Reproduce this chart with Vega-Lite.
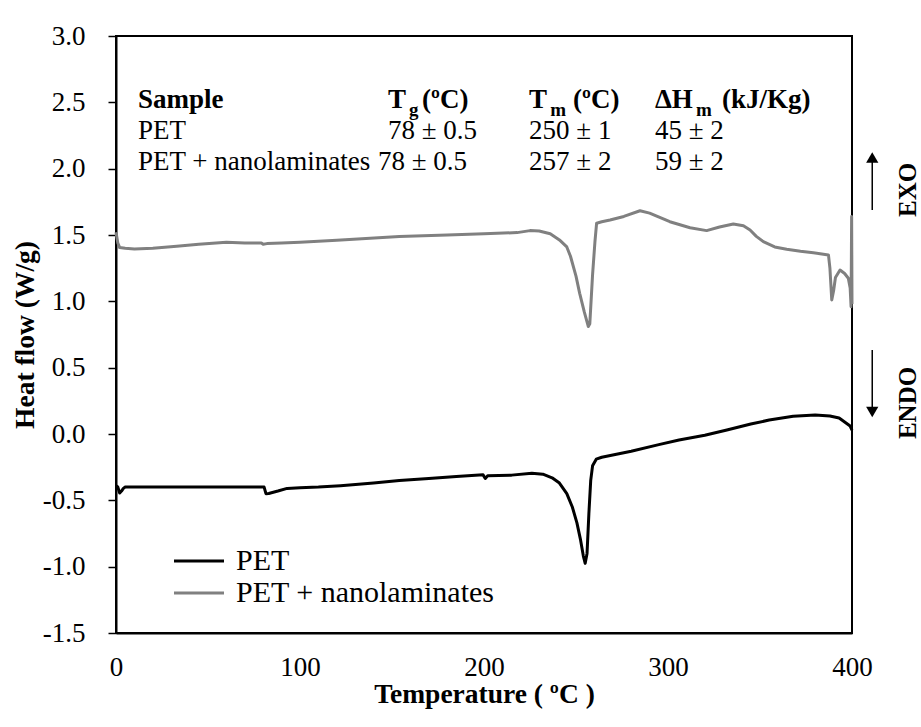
{
  "$schema": "https://vega.github.io/schema/vega-lite/v6.json",
  "width": 736,
  "height": 597,
  "autosize": {"type": "none"},
  "padding": {"left": 116, "top": 36, "right": 69, "bottom": 94},
  "background": "white",
  "config": {
    "font": "Liberation Serif, Times New Roman, serif",
    "view": {"stroke": "#000", "strokeWidth": 2},
    "text": {"font": "Liberation Serif, Times New Roman, serif"},
    "axis": {
      "grid": false,
      "domainColor": "#000",
      "domainWidth": 2,
      "labelFont": "Liberation Serif, Times New Roman, serif",
      "labelFontSize": 27,
      "labelColor": "#000",
      "titleFont": "Liberation Serif, Times New Roman, serif",
      "titleFontSize": 27.5,
      "titleFontWeight": "bold",
      "titleColor": "#000"
    },
    "legend": {"labelFont": "Liberation Serif, Times New Roman, serif"}
  },
  "datasets": {
    "curves": [
      {"x": 0, "y": -0.39, "sample": "PET"},
      {"x": 1, "y": -0.4, "sample": "PET"},
      {"x": 2, "y": -0.445, "sample": "PET"},
      {"x": 3, "y": -0.43, "sample": "PET"},
      {"x": 4, "y": -0.41, "sample": "PET"},
      {"x": 5, "y": -0.4, "sample": "PET"},
      {"x": 20, "y": -0.4, "sample": "PET"},
      {"x": 40, "y": -0.4, "sample": "PET"},
      {"x": 60, "y": -0.4, "sample": "PET"},
      {"x": 80.5, "y": -0.4, "sample": "PET"},
      {"x": 81.5, "y": -0.45, "sample": "PET"},
      {"x": 83, "y": -0.448, "sample": "PET"},
      {"x": 88, "y": -0.43, "sample": "PET"},
      {"x": 93, "y": -0.41, "sample": "PET"},
      {"x": 100, "y": -0.405, "sample": "PET"},
      {"x": 110, "y": -0.4, "sample": "PET"},
      {"x": 122, "y": -0.39, "sample": "PET"},
      {"x": 140, "y": -0.37, "sample": "PET"},
      {"x": 154, "y": -0.351, "sample": "PET"},
      {"x": 170, "y": -0.335, "sample": "PET"},
      {"x": 185, "y": -0.32, "sample": "PET"},
      {"x": 199.5, "y": -0.308, "sample": "PET"},
      {"x": 200.7, "y": -0.335, "sample": "PET"},
      {"x": 202, "y": -0.315, "sample": "PET"},
      {"x": 215, "y": -0.31, "sample": "PET"},
      {"x": 226, "y": -0.296, "sample": "PET"},
      {"x": 232, "y": -0.303, "sample": "PET"},
      {"x": 237, "y": -0.33, "sample": "PET"},
      {"x": 241, "y": -0.37, "sample": "PET"},
      {"x": 245, "y": -0.45, "sample": "PET"},
      {"x": 248, "y": -0.55, "sample": "PET"},
      {"x": 250.5, "y": -0.67, "sample": "PET"},
      {"x": 252.5, "y": -0.8, "sample": "PET"},
      {"x": 254, "y": -0.92, "sample": "PET"},
      {"x": 255, "y": -0.975, "sample": "PET"},
      {"x": 256, "y": -0.9, "sample": "PET"},
      {"x": 257, "y": -0.6, "sample": "PET"},
      {"x": 258, "y": -0.35, "sample": "PET"},
      {"x": 259, "y": -0.24, "sample": "PET"},
      {"x": 261, "y": -0.19, "sample": "PET"},
      {"x": 264, "y": -0.175, "sample": "PET"},
      {"x": 280, "y": -0.13, "sample": "PET"},
      {"x": 295, "y": -0.08, "sample": "PET"},
      {"x": 306, "y": -0.045, "sample": "PET"},
      {"x": 320, "y": -0.01, "sample": "PET"},
      {"x": 332, "y": 0.03, "sample": "PET"},
      {"x": 345, "y": 0.075, "sample": "PET"},
      {"x": 355, "y": 0.105, "sample": "PET"},
      {"x": 368, "y": 0.133, "sample": "PET"},
      {"x": 380, "y": 0.144, "sample": "PET"},
      {"x": 388, "y": 0.135, "sample": "PET"},
      {"x": 393, "y": 0.12, "sample": "PET"},
      {"x": 396, "y": 0.09, "sample": "PET"},
      {"x": 399, "y": 0.06, "sample": "PET"},
      {"x": 400, "y": 0.03, "sample": "PET"},
      {"x": 0, "y": 1.52, "sample": "PET + nanolaminates"},
      {"x": 1, "y": 1.44, "sample": "PET + nanolaminates"},
      {"x": 2, "y": 1.405, "sample": "PET + nanolaminates"},
      {"x": 5, "y": 1.4, "sample": "PET + nanolaminates"},
      {"x": 10, "y": 1.395, "sample": "PET + nanolaminates"},
      {"x": 20, "y": 1.4, "sample": "PET + nanolaminates"},
      {"x": 33, "y": 1.415, "sample": "PET + nanolaminates"},
      {"x": 45, "y": 1.43, "sample": "PET + nanolaminates"},
      {"x": 60, "y": 1.445, "sample": "PET + nanolaminates"},
      {"x": 70, "y": 1.44, "sample": "PET + nanolaminates"},
      {"x": 79, "y": 1.44, "sample": "PET + nanolaminates"},
      {"x": 80, "y": 1.43, "sample": "PET + nanolaminates"},
      {"x": 82, "y": 1.435, "sample": "PET + nanolaminates"},
      {"x": 90, "y": 1.44, "sample": "PET + nanolaminates"},
      {"x": 100, "y": 1.445, "sample": "PET + nanolaminates"},
      {"x": 120, "y": 1.46, "sample": "PET + nanolaminates"},
      {"x": 154, "y": 1.488, "sample": "PET + nanolaminates"},
      {"x": 180, "y": 1.5, "sample": "PET + nanolaminates"},
      {"x": 200, "y": 1.51, "sample": "PET + nanolaminates"},
      {"x": 218, "y": 1.518, "sample": "PET + nanolaminates"},
      {"x": 225, "y": 1.533, "sample": "PET + nanolaminates"},
      {"x": 230, "y": 1.53, "sample": "PET + nanolaminates"},
      {"x": 236, "y": 1.51, "sample": "PET + nanolaminates"},
      {"x": 241, "y": 1.463, "sample": "PET + nanolaminates"},
      {"x": 245, "y": 1.41, "sample": "PET + nanolaminates"},
      {"x": 247, "y": 1.34, "sample": "PET + nanolaminates"},
      {"x": 250, "y": 1.19, "sample": "PET + nanolaminates"},
      {"x": 252, "y": 1.06, "sample": "PET + nanolaminates"},
      {"x": 254.5, "y": 0.92, "sample": "PET + nanolaminates"},
      {"x": 256.7, "y": 0.81, "sample": "PET + nanolaminates"},
      {"x": 257.5, "y": 0.83, "sample": "PET + nanolaminates"},
      {"x": 259, "y": 1.2, "sample": "PET + nanolaminates"},
      {"x": 260.3, "y": 1.45, "sample": "PET + nanolaminates"},
      {"x": 261.2, "y": 1.589, "sample": "PET + nanolaminates"},
      {"x": 264, "y": 1.6, "sample": "PET + nanolaminates"},
      {"x": 268.5, "y": 1.613, "sample": "PET + nanolaminates"},
      {"x": 276, "y": 1.64, "sample": "PET + nanolaminates"},
      {"x": 284.8, "y": 1.683, "sample": "PET + nanolaminates"},
      {"x": 290, "y": 1.665, "sample": "PET + nanolaminates"},
      {"x": 301, "y": 1.6, "sample": "PET + nanolaminates"},
      {"x": 312, "y": 1.555, "sample": "PET + nanolaminates"},
      {"x": 321, "y": 1.533, "sample": "PET + nanolaminates"},
      {"x": 328, "y": 1.56, "sample": "PET + nanolaminates"},
      {"x": 335.5, "y": 1.583, "sample": "PET + nanolaminates"},
      {"x": 341, "y": 1.57, "sample": "PET + nanolaminates"},
      {"x": 344.6, "y": 1.538, "sample": "PET + nanolaminates"},
      {"x": 348, "y": 1.49, "sample": "PET + nanolaminates"},
      {"x": 351.8, "y": 1.45, "sample": "PET + nanolaminates"},
      {"x": 358, "y": 1.41, "sample": "PET + nanolaminates"},
      {"x": 364.5, "y": 1.393, "sample": "PET + nanolaminates"},
      {"x": 372, "y": 1.378, "sample": "PET + nanolaminates"},
      {"x": 379, "y": 1.367, "sample": "PET + nanolaminates"},
      {"x": 387.2, "y": 1.35, "sample": "PET + nanolaminates"},
      {"x": 388, "y": 1.25, "sample": "PET + nanolaminates"},
      {"x": 389, "y": 1.01, "sample": "PET + nanolaminates"},
      {"x": 390, "y": 1.08, "sample": "PET + nanolaminates"},
      {"x": 391, "y": 1.18, "sample": "PET + nanolaminates"},
      {"x": 393.5, "y": 1.236, "sample": "PET + nanolaminates"},
      {"x": 396, "y": 1.21, "sample": "PET + nanolaminates"},
      {"x": 398, "y": 1.174, "sample": "PET + nanolaminates"},
      {"x": 399, "y": 1.1, "sample": "PET + nanolaminates"},
      {"x": 399.5, "y": 0.96, "sample": "PET + nanolaminates"},
      {"x": 399.8, "y": 1.64, "sample": "PET + nanolaminates"},
      {"x": 400, "y": 0.98, "sample": "PET + nanolaminates"}
    ],
    "head": [
      {"x": 12.0, "y": 2.52, "text": "Sample"},
      {"x": 147.8, "y": 2.52, "text": "T"},
      {"x": 166.3, "y": 2.52, "text": "(ºC)"},
      {"x": 224.5, "y": 2.52, "text": "T"},
      {"x": 248.4, "y": 2.52, "text": "(ºC)"},
      {"x": 292.9, "y": 2.52, "text": "ΔH"},
      {"x": 329.3, "y": 2.52, "text": "(kJ/Kg)"}
    ],
    "sub": [
      {"x": 159.3, "y": 2.52, "text": "g"},
      {"x": 236.0, "y": 2.52, "text": "m"},
      {"x": 315.2, "y": 2.52, "text": "m"}
    ],
    "body": [
      {"x": 12.0, "y": 2.285, "text": "PET"},
      {"x": 147.8, "y": 2.285, "text": "78 ± 0.5"},
      {"x": 224.5, "y": 2.285, "text": "250 ± 1"},
      {"x": 292.9, "y": 2.285, "text": "45 ± 2"},
      {"x": 12.0, "y": 2.05, "text": "PET + nanolaminates"},
      {"x": 142.4, "y": 2.05, "text": "78 ± 0.5"},
      {"x": 224.5, "y": 2.05, "text": "257 ± 2"},
      {"x": 292.9, "y": 2.05, "text": "59 ± 2"}
    ],
    "arrows": [
      {"x": 411, "y": 1.689, "y2": 2.06},
      {"x": 411, "y": 0.634, "y2": 0.19}
    ],
    "heads": [
      {"x": 411, "y": 2.084, "dir": "up"},
      {"x": 411, "y": 0.166, "dir": "down"}
    ],
    "sides": [
      {"x": 430.4, "y": 1.84, "text": "EXO"},
      {"x": 430.4, "y": 0.234, "text": "ENDO"}
    ]
  },
  "layer": [
    {
      "data": {"name": "curves"},
      "mark": {"type": "line", "strokeWidth": 3, "strokeJoin": "round"},
      "encoding": {
        "x": {
          "field": "x", "type": "quantitative",
          "scale": {"domain": [0, 400], "nice": false, "zero": false},
          "axis": {"title": "Temperature ( ºC )", "values": [0, 100, 200, 300, 400], "ticks": false, "tickSize": 0, "labelPadding": 21, "titlePadding": 0, "labelFlush": false}
        },
        "y": {
          "field": "y", "type": "quantitative",
          "scale": {"domain": [-1.5, 3], "nice": false, "zero": false},
          "axis": {"title": "Heat flow (W/g)", "values": [-1.5, -1, -0.5, 0, 0.5, 1, 1.5, 2, 2.5, 3], "tickSize": 8, "tickWidth": 1.5, "tickColor": "#000", "labelPadding": 23, "titlePadding": 3, "labelFlush": false,
            "labelExpr": "datum.value < 0 ? '-' + format(-datum.value, '.1f') : format(datum.value, '.1f')"}
        },
        "color": {
          "field": "sample", "type": "nominal",
          "scale": {"domain": ["PET", "PET + nanolaminates"], "range": ["#000000", "#808080"]},
          "legend": {"orient": "none", "legendX": 88, "legendY": 510, "title": null, "symbolType": "M-9,0H1", "symbolSize": 100, "symbolStrokeWidth": 3, "labelFont": "Liberation Serif, Times New Roman, serif", "labelFontSize": 30, "labelColor": "#000", "labelLimit": 0, "rowPadding": 2, "labelOffset": 2, "padding": 0}
        }
      }
    },
    {
      "data": {"name": "head"},
      "mark": {"type": "text", "align": "left", "baseline": "middle", "fontSize": 27, "fontWeight": "bold", "font": "Liberation Serif, Times New Roman, serif", "color": "#000"},
      "encoding": {
        "x": {"field": "x", "type": "quantitative", "scale": {"domain": [0, 400]}},
        "y": {"field": "y", "type": "quantitative", "scale": {"domain": [-1.5, 3]}},
        "text": {"field": "text"}
      }
    },
    {
      "data": {"name": "sub"},
      "mark": {"type": "text", "align": "left", "baseline": "middle", "fontSize": 19, "fontWeight": "bold", "font": "Liberation Serif, Times New Roman, serif", "color": "#000", "dy": 10},
      "encoding": {
        "x": {"field": "x", "type": "quantitative", "scale": {"domain": [0, 400]}},
        "y": {"field": "y", "type": "quantitative", "scale": {"domain": [-1.5, 3]}},
        "text": {"field": "text"}
      }
    },
    {
      "data": {"name": "body"},
      "mark": {"type": "text", "align": "left", "baseline": "middle", "fontSize": 27, "font": "Liberation Serif, Times New Roman, serif", "color": "#000"},
      "encoding": {
        "x": {"field": "x", "type": "quantitative", "scale": {"domain": [0, 400]}},
        "y": {"field": "y", "type": "quantitative", "scale": {"domain": [-1.5, 3]}},
        "text": {"field": "text"}
      }
    },
    {
      "data": {"name": "arrows"},
      "mark": {"type": "rule", "color": "#000", "strokeWidth": 1.5},
      "encoding": {
        "x": {"field": "x", "type": "quantitative", "scale": {"domain": [0, 400]}},
        "y": {"field": "y", "type": "quantitative", "scale": {"domain": [-1.5, 3]}},
        "y2": {"field": "y2"}
      }
    },
    {
      "data": {"name": "heads"},
      "mark": {"type": "point", "filled": true, "color": "#000", "size": 150, "opacity": 1},
      "encoding": {
        "x": {"field": "x", "type": "quantitative", "scale": {"domain": [0, 400]}},
        "y": {"field": "y", "type": "quantitative", "scale": {"domain": [-1.5, 3]}},
        "shape": {"field": "dir", "type": "nominal", "scale": {"domain": ["up", "down"], "range": ["triangle-up", "triangle-down"]}, "legend": null}
      }
    },
    {
      "data": {"name": "sides"},
      "mark": {"type": "text", "align": "center", "baseline": "middle", "angle": 270, "fontSize": 25, "fontWeight": "bold", "font": "Liberation Serif, Times New Roman, serif", "color": "#000"},
      "encoding": {
        "x": {"field": "x", "type": "quantitative", "scale": {"domain": [0, 400]}},
        "y": {"field": "y", "type": "quantitative", "scale": {"domain": [-1.5, 3]}},
        "text": {"field": "text"}
      }
    }
  ]
}
